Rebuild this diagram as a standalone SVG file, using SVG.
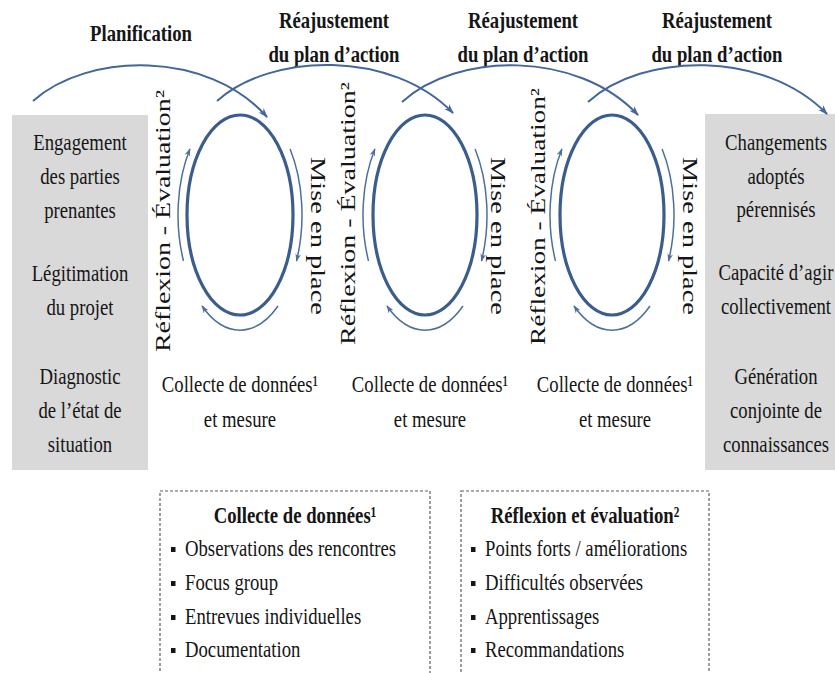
<svg xmlns="http://www.w3.org/2000/svg" width="835" height="673" viewBox="0 0 835 673">
<style>
.t{font-family:"Liberation Serif","Times New Roman",serif;font-size:24px;fill:#151515;}
.c{text-anchor:middle;}
.b{font-weight:bold;}
.v{font-family:"Liberation Serif","Times New Roman",serif;font-size:21px;fill:#151515;}
.ell{fill:none;stroke:#3b5d8c;stroke-width:3.2;}
.arc{fill:none;stroke:#4d6f9c;stroke-width:1.5;marker-end:url(#ah);}
.big{fill:none;stroke:#44669a;stroke-width:2;marker-end:url(#ah2);}
.gray{fill:#d9d9d9;}
.dash{fill:none;stroke:#5f5f52;stroke-width:1.2;stroke-dasharray:3 2;}
.sq{fill:#151515;}
</style>
<defs>
<marker id="ah" viewBox="0 0 10 10" refX="9" refY="5" markerWidth="8" markerHeight="8" orient="auto" markerUnits="userSpaceOnUse">
<path d="M0,1.5 L10,5 L0,8.5 L3,5 z" fill="#4d6f9c"/>
</marker>
<marker id="ah2" viewBox="0 0 10 10" refX="9" refY="5" markerWidth="10" markerHeight="10" orient="auto" markerUnits="userSpaceOnUse">
<path d="M0,1.5 L10,5 L0,8.5 L3,5 z" fill="#44669a"/>
</marker>
</defs>

<g id="left-box">
<rect class="gray" x="12" y="115" width="136" height="355"/>
<g transform="matrix(0.78 0 0 1 17.6 0)">
<text class="t c" x="80" y="150">Engagement</text>
<text class="t c" x="80" y="184">des parties</text>
<text class="t c" x="80" y="218">prenantes</text>
<text class="t c" x="80" y="281">Légitimation</text>
<text class="t c" x="80" y="315">du projet</text>
<text class="t c" x="80" y="384">Diagnostic</text>
<text class="t c" x="80" y="418">de l’état de</text>
<text class="t c" x="80" y="452">situation</text>
</g>
</g>

<g id="right-box">
<rect class="gray" x="705" y="114" width="140" height="356"/>
<g transform="matrix(0.78 0 0 1 170.72 0)">
<text class="t c" x="776" y="150">Changements</text>
<text class="t c" x="776" y="184">adoptés</text>
<text class="t c" x="776" y="217">pérennisés</text>
<text class="t c" x="776" y="280">Capacité d’agir</text>
<text class="t c" x="776" y="314">collectivement</text>
<text class="t c" x="776" y="384">Génération</text>
<text class="t c" x="776" y="418">conjointe de</text>
<text class="t c" x="776" y="452">connaissances</text>
</g>
</g>

<g id="phase-labels">
<text class="t c b" x="141" y="41" transform="matrix(0.78 0 0 1 31.02 0)">Planification</text>
<g transform="matrix(0.78 0 0 1 73.48 0)">
<text class="t c b" x="334" y="28">Réajustement</text>
<text class="t c b" x="334" y="62">du plan d’action</text>
</g>
<g transform="matrix(0.78 0 0 1 115.06 0)">
<text class="t c b" x="523" y="28">Réajustement</text>
<text class="t c b" x="523" y="62">du plan d’action</text>
</g>
<g transform="matrix(0.78 0 0 1 157.74 0)">
<text class="t c b" x="717" y="28">Réajustement</text>
<text class="t c b" x="717" y="62">du plan d’action</text>
</g>
</g>

<g id="cycle-1">
<ellipse class="ell" cx="240" cy="215" rx="53" ry="100"/>
<text class="v" transform="translate(170 352) rotate(-90)" x="0" y="0" textLength="262" lengthAdjust="spacingAndGlyphs">Réflexion - Évaluation²</text>
<text class="v" transform="translate(311 157) rotate(90)" x="0" y="0" textLength="158" lengthAdjust="spacingAndGlyphs">Mise en place</text>
<g transform="matrix(0.78 0 0 1 52.8 0)">
<text class="t c" x="240" y="392">Collecte de données¹</text>
<text class="t c" x="240" y="427">et mesure</text>
</g>
</g>

<g id="cycle-2">
<ellipse class="ell" cx="425" cy="215" rx="52" ry="100"/>
<text class="v" transform="translate(355 345) rotate(-90)" x="0" y="0" textLength="263" lengthAdjust="spacingAndGlyphs">Réflexion - Évaluation²</text>
<text class="v" transform="translate(491 157) rotate(90)" x="0" y="0" textLength="158" lengthAdjust="spacingAndGlyphs">Mise en place</text>
<g transform="matrix(0.78 0 0 1 94.6 0)">
<text class="t c" x="430" y="392">Collecte de données¹</text>
<text class="t c" x="430" y="427">et mesure</text>
</g>
</g>

<g id="cycle-3">
<ellipse class="ell" cx="612" cy="215" rx="52" ry="100"/>
<text class="v" transform="translate(545 345) rotate(-90)" x="0" y="0" textLength="257" lengthAdjust="spacingAndGlyphs">Réflexion - Évaluation²</text>
<text class="v" transform="translate(683 157) rotate(90)" x="0" y="0" textLength="158" lengthAdjust="spacingAndGlyphs">Mise en place</text>
<g transform="matrix(0.78 0 0 1 135.3 0)">
<text class="t c" x="615" y="392">Collecte de données¹</text>
<text class="t c" x="615" y="427">et mesure</text>
</g>
</g>

<g id="box-collecte">
<rect class="dash" x="160" y="491" width="270" height="200"/>
<text class="t c b" x="295" y="523" transform="matrix(0.78 0 0 1 64.9 0)">Collecte de données¹</text>
<rect class="sq" x="171" y="547" width="4.5" height="5"/>
<rect class="sq" x="171" y="581" width="4.5" height="5"/>
<rect class="sq" x="171" y="615" width="4.5" height="5"/>
<rect class="sq" x="171" y="648" width="4.5" height="5"/>
<g transform="matrix(0.78 0 0 1 40.7 0)">
<text class="t" x="185" y="556">Observations des rencontres</text>
<text class="t" x="185" y="590">Focus group</text>
<text class="t" x="185" y="624">Entrevues individuelles</text>
<text class="t" x="185" y="657">Documentation</text>
</g>
</g>

<g id="box-reflexion">
<rect class="dash" x="461" y="491" width="248" height="200"/>
<text class="t c b" x="585" y="523" transform="matrix(0.78 0 0 1 128.7 0)">Réflexion et évaluation²</text>
<rect class="sq" x="471" y="547" width="4.5" height="5"/>
<rect class="sq" x="471" y="581" width="4.5" height="5"/>
<rect class="sq" x="471" y="615" width="4.5" height="5"/>
<rect class="sq" x="471" y="648" width="4.5" height="5"/>
<g transform="matrix(0.78 0 0 1 106.7 0)">
<text class="t" x="485" y="556">Points forts / améliorations</text>
<text class="t" x="485" y="590">Difficultés observées</text>
<text class="t" x="485" y="624">Apprentissages</text>
<text class="t" x="485" y="657">Recommandations</text>
</g>
</g>

<g id="connectors">
<path class="big" d="M33,101 C88,52 208,50 267,117"/>
<path class="big" d="M217,101 C272,52 392,50 453,113"/>
<path class="big" d="M402,102 C457,52 577,50 638,115"/>
<path class="big" d="M588,102 C643,52 765,50 827,114"/>

<path class="arc" d="M183.5,261 A62,112 0 0 1 189.9,149"/>
<path class="arc" d="M290.1,149 A62,112 0 0 1 296.5,261"/>
<path class="arc" d="M278,306 A62,115 0 0 1 202,306"/>

<path class="arc" d="M368.5,261 A62,112 0 0 1 374.9,149"/>
<path class="arc" d="M475.1,149 A62,112 0 0 1 481.5,261"/>
<path class="arc" d="M463,306 A62,115 0 0 1 387,306"/>

<path class="arc" d="M555.5,261 A62,112 0 0 1 561.9,149"/>
<path class="arc" d="M662.1,149 A62,112 0 0 1 668.5,261"/>
<path class="arc" d="M650,306 A62,115 0 0 1 574,306"/>
</g>
</svg>
